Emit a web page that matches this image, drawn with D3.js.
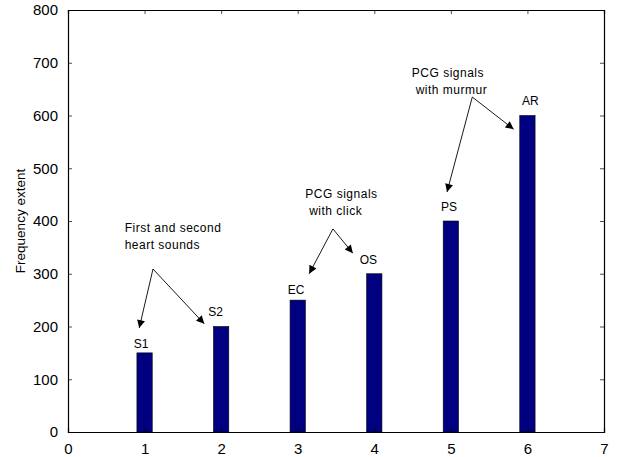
<!DOCTYPE html>
<html>
<head>
<meta charset="utf-8">
<script src="https://cdn.jsdelivr.net/npm/d3@7"></script>
<style>
  html, body { margin: 0; padding: 0; background: #fff; }
  svg { display: block; font-family: "Liberation Sans", Arial, sans-serif; }
</style>
</head>
<body>
<svg id="chart" width="618" height="457"></svg>
<script>
// Bar data: heart sound / PCG signal components and their frequency extent
const positions = [1, 2, 3, 4, 5, 6];
const names = ["S1", "S2", "EC", "OS", "PS", "AR"];
const extents = [150, 200, 250, 300, 400, 600];

// Bar name labels (data coordinates of the text's left baseline)
const labelX = [0.86, 1.83, 2.87, 3.81, 4.87, 5.93];
const labelY = [159, 220, 262, 318, 419, 620];

// Axis ticks
const xTicks = [0, 1, 2, 3, 4, 5, 6, 7];
const yTicks = [0, 100, 200, 300, 400, 500, 600, 700, 800];

// Callout groups: text lines, text anchor, arrow origin and arrow tips
const noteLines = [["First and second", "heart sounds"], ["PCG signals", " with click"], ["PCG signals", " with murmur"]];
const noteTextX = [0.74, 3.10, 4.49];
const noteTextY = [379, 444, 673];
const noteFromX = [1.11, 3.46, 5.28];
const noteFromY = [309, 385, 635];
const noteTipsX = [[0.93, 1.78], [3.15, 3.72], [4.95, 5.82]];
const noteTipsY = [[197, 205], [300, 339], [455, 574]];

const svg = d3.select("#chart");
const margin = { left: 68, top: 10, right: 14, bottom: 25 };
const W = 618, H = 457;
const x = d3.scaleLinear().domain([0, 7]).range([margin.left, W - margin.right]);
const y = d3.scaleLinear().domain([0, 800]).range([H - margin.bottom, margin.top]);

const defs = svg.append("defs");
defs.append("marker")
  .attr("id", "head")
  .attr("viewBox", "0 0 10 10")
  .attr("refX", 10).attr("refY", 5)
  .attr("markerWidth", 10).attr("markerHeight", 8)
  .attr("markerUnits", "userSpaceOnUse")
  .attr("orient", "auto")
  .append("path").attr("d", "M0,0 L10,5 L0,10 Z").attr("fill", "#000");

// Bars
const barW = x(0.2) - x(0);
svg.append("g").selectAll("rect").data(positions).join("rect")
  .attr("x", (d) => x(d) - barW / 2)
  .attr("y", (d, i) => y(extents[i]))
  .attr("width", barW)
  .attr("height", (d, i) => y(0) - y(extents[i]))
  .attr("fill", "#000080")
  .attr("stroke", "#000")
  .attr("stroke-width", 0.6);

// Axes with inward ticks on all four sides
const tickLen = 4;
const axB = svg.append("g").attr("transform", `translate(0,${y(0)})`)
  .call(d3.axisBottom(x).tickValues(xTicks).tickSize(-tickLen).tickPadding(11).tickFormat(d3.format("d")));
const axT = svg.append("g").attr("transform", `translate(0,${y(800)})`)
  .call(d3.axisTop(x).tickValues(xTicks).tickSize(-tickLen).tickFormat(""));
const axL = svg.append("g").attr("transform", `translate(${x(0)},0)`)
  .call(d3.axisLeft(y).tickValues(yTicks).tickSize(-tickLen).tickPadding(10).tickFormat(d3.format("d")));
const axR = svg.append("g").attr("transform", `translate(${x(7)},0)`)
  .call(d3.axisRight(y).tickValues(yTicks).tickSize(-tickLen).tickFormat(""));

[axB, axT, axL, axR].forEach((g) => {
  g.select(".domain").attr("stroke", "#000").attr("stroke-width", 1.2);
  g.selectAll(".tick line").attr("stroke", "#000").attr("stroke-width", 0.7);
  g.selectAll(".tick text").attr("fill", "#000").style("font-size", "15px")
    .style("font-family", '"Liberation Sans", Arial, sans-serif');
});
axB.selectAll(".tick text").attr("dy", "0.71em");

// Y axis title
svg.append("text")
  .attr("transform", `translate(25,${(y(0) + y(800)) / 2}) rotate(-90)`)
  .attr("text-anchor", "middle")
  .style("font-size", "13.5px")
  .text("Frequency extent");

// Bar labels
svg.append("g").selectAll("text").data(names).join("text")
  .attr("x", (d, i) => x(labelX[i]))
  .attr("y", (d, i) => y(labelY[i]))
  .style("font-size", "12px")
  .text((d) => d);

// Callouts
noteLines.forEach((lines, k) => {
  const g = svg.append("g");
  lines.forEach((t, j) => {
    g.append("text")
      .attr("x", x(noteTextX[k]))
      .attr("y", y(noteTextY[k]) + j * 17)
      .style("font-size", "12px")
      .style("letter-spacing", "0.5px")
      .style("white-space", "pre")
      .text(t);
  });
  noteTipsX[k].forEach((tx, j) => {
    g.append("line")
      .attr("x1", x(noteFromX[k])).attr("y1", y(noteFromY[k]))
      .attr("x2", x(tx)).attr("y2", y(noteTipsY[k][j]))
      .attr("stroke", "#000").attr("stroke-width", 0.9)
      .attr("marker-end", "url(#head)");
  });
});
</script>
</body>
</html>
